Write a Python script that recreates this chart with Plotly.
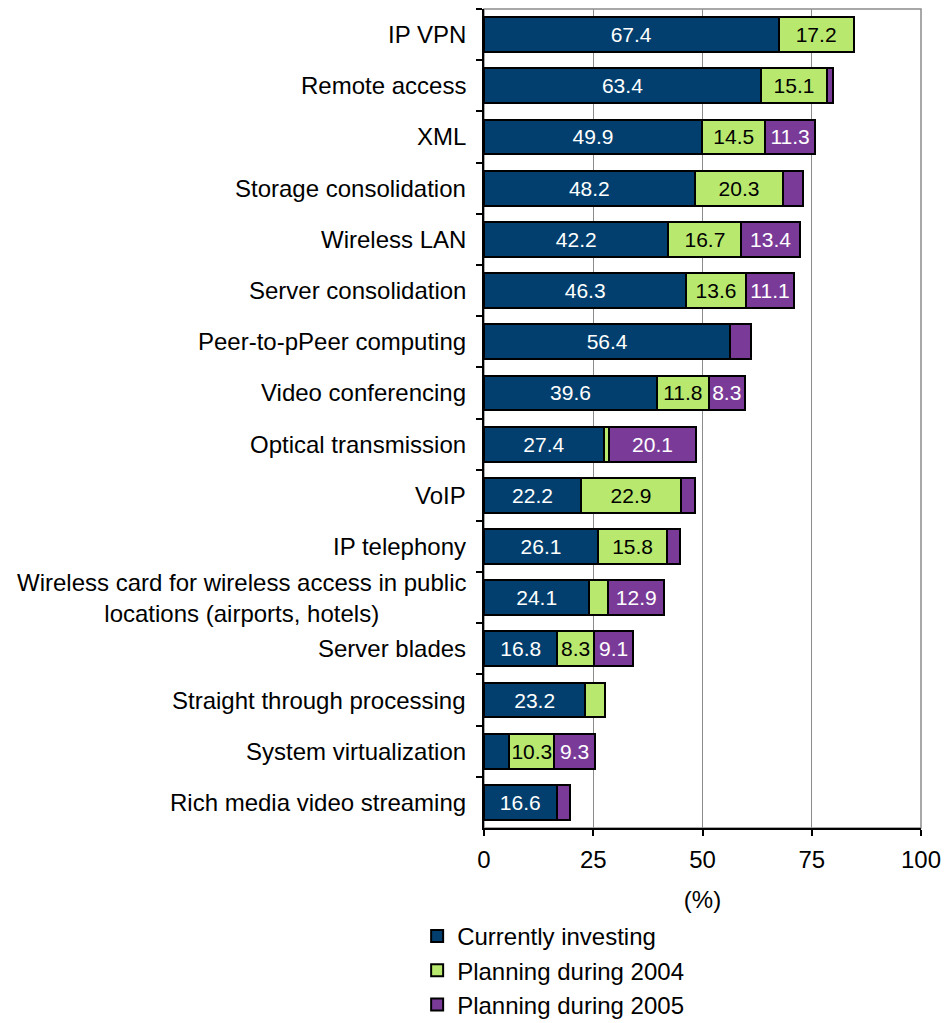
import plotly.graph_objects as go

# Technologies surveyed, top to bottom
categories = [
    "IP VPN",
    "Remote access",
    "XML",
    "Storage consolidation",
    "Wireless LAN",
    "Server consolidation",
    "Peer-to-pPeer computing",
    "Video conferencing",
    "Optical transmission",
    "VoIP",
    "IP telephony",
    "Wireless card for wireless access in public<br>locations (airports, hotels)",
    "Server blades",
    "Straight through processing",
    "System virtualization",
    "Rich media video streaming",
]

# Share of respondents (%)
currently_investing = [67.4, 63.4, 49.9, 48.2, 42.2, 46.3, 56.4, 39.6, 27.4, 22.2, 26.1, 24.1, 16.8, 23.2, 5.8, 16.6]
planning_2004 = [17.2, 15.1, 14.5, 20.3, 16.7, 13.6, None, 11.8, 1.1, 22.9, 15.8, 4.3, 8.3, 4.5, 10.3, None]
planning_2005 = [None, 1.3, 11.3, 4.5, 13.4, 11.1, 4.6, 8.3, 20.1, 3.1, 2.9, 12.9, 9.1, None, 9.3, 3.0]

series_names = ["Currently investing", "Planning during 2004", "Planning during 2005"]
x_ticks = [0, 25, 50, 75, 100]

FONT = "Liberation Sans, Arial, sans-serif"
colors = ["#023F6E", "#B9E86E", "#7A3B98"]
text_colors = ["white", "black", "white"]


def seg_labels(values, min_value=8):
    return [f"{v:.1f}" if v is not None and v >= min_value else "" for v in values]


fig = go.Figure()
for name, vals, col, tcol in zip(series_names,
                                 [currently_investing, planning_2004, planning_2005],
                                 colors, text_colors):
    fig.add_trace(go.Bar(
        name=name,
        y=categories,
        x=vals,
        orientation="h",
        marker=dict(color=col, line=dict(color="black", width=2)),
        width=0.68,
        text=seg_labels(vals),
        textposition="inside",
        insidetextanchor="middle",
        textangle=0,
        textfont=dict(family=FONT, size=21, color=tcol),
        cliponaxis=False,
    ))

# category labels, centred line by line
for cat in categories:
    fig.add_annotation(
        x=0, xref="paper", y=cat, yref="y",
        text=cat, showarrow=False,
        xanchor="right", xshift=-16, align="center",
        font=dict(family=FONT, size=24, color="black"),
    )

# grey frame on top and right of the plotting area
fig.add_shape(type="rect", xref="paper", yref="paper", x0=0, x1=1, y0=0, y1=1,
              line=dict(color="#8C8C8C", width=1.5), layer="below")

fig.update_layout(
    width=944, height=1023,
    margin=dict(l=484, r=23, t=9, b=195, autoexpand=False),
    barmode="stack",
    plot_bgcolor="white",
    paper_bgcolor="white",
    font=dict(family=FONT, size=23.5, color="black"),
    uniformtext=dict(minsize=21, mode="show"),
    showlegend=True,
    legend=dict(
        orientation="v", traceorder="normal",
        x=-0.153, xanchor="left", y=-0.105, yanchor="top",
        font=dict(family=FONT, size=24, color="black"),
        itemsizing="constant", tracegroupgap=0,
        bgcolor="rgba(0,0,0,0)",
    ),
    xaxis=dict(
        range=[0, 100], tickvals=x_ticks, ticktext=[str(t) for t in x_ticks],
        showgrid=True, gridcolor="#8C8C8C", gridwidth=1,
        showline=True, linecolor="black", linewidth=1.5,
        ticks="outside", ticklen=6, tickcolor="black", tickwidth=1.5,
        ticklabelstandoff=3,
        zeroline=False,
        title=dict(text="(%)", standoff=20, font=dict(family=FONT, size=24)),
        tickfont=dict(family=FONT, size=24),
    ),
    yaxis=dict(
        type="category", categoryorder="array", categoryarray=categories,
        autorange="reversed",
        showticklabels=False, showgrid=False,
        showline=True, linecolor="black", linewidth=1.5,
        ticks="outside", ticklen=6, tickcolor="black", tickwidth=1.5,
        tickson="boundaries",
        zeroline=False,
    ),
)

fig.write_html("out.html")
